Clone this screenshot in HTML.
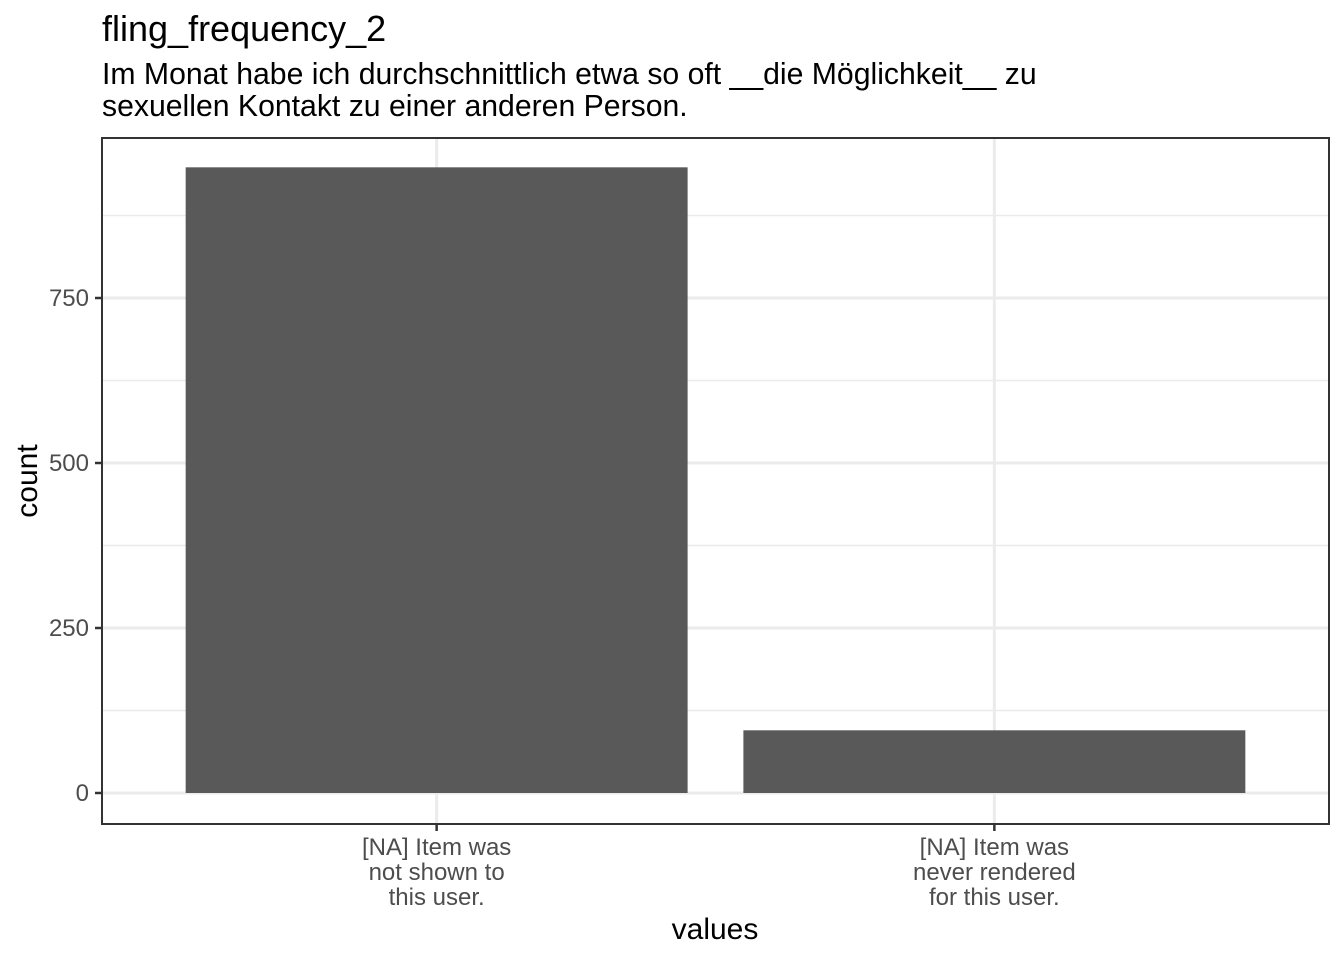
<!DOCTYPE html>
<html><head><meta charset="utf-8"><style>
body{margin:0;background:#fff;font-family:"Liberation Sans",sans-serif;}
</style></head><body>
<svg width="1344" height="960" xmlns="http://www.w3.org/2000/svg" font-family="Liberation Sans, sans-serif">
<text x="102" y="41" font-size="36" fill="#000">fling_frequency_2</text>
<text x="102" y="84" font-size="30.2" fill="#000">Im Monat habe ich durchschnittlich etwa so oft __die Möglichkeit__ zu</text>
<text x="102" y="116" font-size="30.2" fill="#000">sexuellen Kontakt zu einer anderen Person.</text>
<g id="plot"></g>
<text x="715" y="939" font-size="30" text-anchor="middle">values</text>
<text transform="translate(37,481) rotate(-90)" font-size="30" text-anchor="middle">count</text>
</svg>
<script>
const categories=[["[NA] Item was","not shown to","this user."],["[NA] Item was","never rendered","for this user."]];
const counts=[948,95];
const yTicks=[0,250,500,750];
const yMinor=[125,375,625,875];
const L=102,R=1329,T=138,B=824;
const y=v=>793-v*0.66;
const unit=(R-L)/(categories.length-1+1.2);
const xc=i=>L+unit*(i+0.6);
const bw=unit*0.9;
const g=document.getElementById('plot');
const NS='http://www.w3.org/2000/svg';
function mk(t,a){const e=document.createElementNS(NS,t);for(const k in a)e.setAttribute(k,a[k]);g.appendChild(e);return e;}
mk('rect',{x:L,y:T,width:R-L,height:B-T,fill:'#fff'});
yMinor.forEach(v=>{const e=mk('line',{x1:L,x2:R,y1:y(v),y2:y(v),stroke:'#ebebeb','stroke-width':1.5});

});
yTicks.forEach(v=>{const e=mk('line',{x1:L,x2:R,y1:y(v),y2:y(v),stroke:'#ebebeb','stroke-width':3});


const t=mk('line',{x1:L-7,x2:L,y1:y(v),y2:y(v),stroke:'#333','stroke-width':2.5});


const l=mk('text',{x:L-13,y:y(v)+8,'font-size':24,fill:'#4d4d4d','text-anchor':'end'});l.textContent=v;

});
categories.forEach((c,i)=>{const e=mk('line',{x1:xc(i),x2:xc(i),y1:T,y2:B,stroke:'#ebebeb','stroke-width':3});

});
counts.forEach((v,i)=>{const r=mk('rect',{x:xc(i)-bw/2,y:y(v),width:bw,height:y(0)-y(v),fill:'#595959'});

});
mk('rect',{x:L,y:T,width:R-L,height:B-T,fill:'none',stroke:'#333','stroke-width':2});
categories.forEach((c,i)=>{const t=mk('line',{x1:xc(i),x2:xc(i),y1:B,y2:B+7,stroke:'#333','stroke-width':2.5});


c.forEach((s,j)=>{const l=mk('text',{x:xc(i),y:855+j*25,'font-size':24,fill:'#4d4d4d','text-anchor':'middle'});l.textContent=s;

});});
</script>
</body></html>
